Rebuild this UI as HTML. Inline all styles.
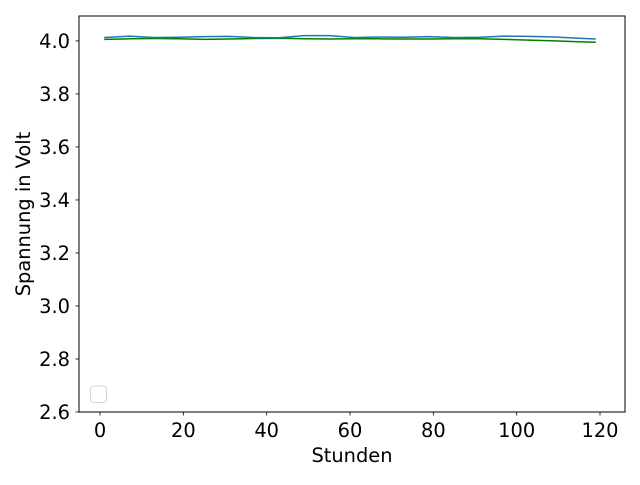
<!DOCTYPE html>
<html><head><meta charset="utf-8"><style>
body{margin:0;background:#fff}
svg text{font-family:"DejaVu Sans","Liberation Sans",sans-serif}
</style></head><body>
<svg id="chart" width="640" height="480" xmlns="http://www.w3.org/2000/svg">
<rect x="0" y="0" width="640" height="480" fill="#fff"/>
<g id="plot"></g>
</svg>
<script>
const xValues=[1,7,13,19,25,31,37,43,49,55,61,67,73,79,85,91,97,103,109,115,119];
const blueValues=[4.013,4.018,4.013,4.014,4.016,4.017,4.013,4.012,4.020,4.020,4.013,4.015,4.014,4.016,4.013,4.014,4.018,4.017,4.015,4.010,4.007];
const greenValues=[4.006,4.008,4.009,4.008,4.006,4.007,4.009,4.010,4.008,4.007,4.008,4.008,4.007,4.007,4.008,4.008,4.006,4.003,4.000,3.997,3.995];
const xTicks=[0,20,40,60,80,100,120];
const yTicks=[2.6,2.8,3.0,3.2,3.4,3.6,3.8,4.0];
const yTickLabels=["2.6","2.8","3.0","3.2","3.4","3.6","3.8","4.0"];

const L=79,R=625,T=16,B=412;
const xMin=-5.04,xMax=126,yMin=2.6,yMax=4.094;
const sx=v=>L+(v-xMin)/(xMax-xMin)*(R-L);
const sy=v=>B-(v-yMin)/(yMax-yMin)*(B-T);
const NS="http://www.w3.org/2000/svg";
const g=document.getElementById('plot');
function mk(tag,attrs,parent){const e=document.createElementNS(NS,tag);for(const k in attrs)e.setAttribute(k,attrs[k]);(parent||g).appendChild(e);return e;}

function line(vals,color,name){
  const d=xValues.map((x,i)=>(i?'L':'M')+sx(x).toFixed(2)+','+sy(vals[i]).toFixed(2)).join('');
  const p=mk('path',{d:d,fill:'none',stroke:color,'stroke-width':1.5});
  
  
}
line(greenValues,'#008000','series-green-line');
line(blueValues,'#1f77b4','series-blue-line');

const frame=mk('rect',{x:L,y:T,width:R-L,height:B-T,fill:'none',stroke:'#000','stroke-width':1});



xTicks.forEach(t=>{
  const x=sx(t);
  const tk=mk('line',{x1:x,x2:x,y1:B,y2:B+3.5,stroke:'#000','stroke-width':0.8});
  
  
  const tx=mk('text',{x:x,y:B+25,'font-size':19.4,'text-anchor':'middle'});
  tx.textContent=String(t);
  
  
});
yTicks.forEach((t,i)=>{
  const y=sy(t);
  const tk=mk('line',{x1:L-3.5,x2:L,y1:y,y2:y,stroke:'#000','stroke-width':0.8});
  
  
  const tx=mk('text',{x:L-9,y:y+7,'font-size':19.4,'text-anchor':'end'});
  tx.textContent=yTickLabels[i];
  
  
});

const xt=mk('text',{x:(L+R)/2,y:462,'font-size':19.4,'text-anchor':'middle'});
xt.textContent='Stunden';


const yt=mk('text',{x:0,y:0,'font-size':19.4,'text-anchor':'middle',transform:'translate(30,'+((T+B)/2)+') rotate(-90)'});
yt.textContent='Spannung in Volt';



const lg=mk('rect',{x:90.5,y:386,width:16,height:16.5,rx:3,fill:'#fff',stroke:'#d5d5d5','stroke-width':1});


</script>
</body></html>
